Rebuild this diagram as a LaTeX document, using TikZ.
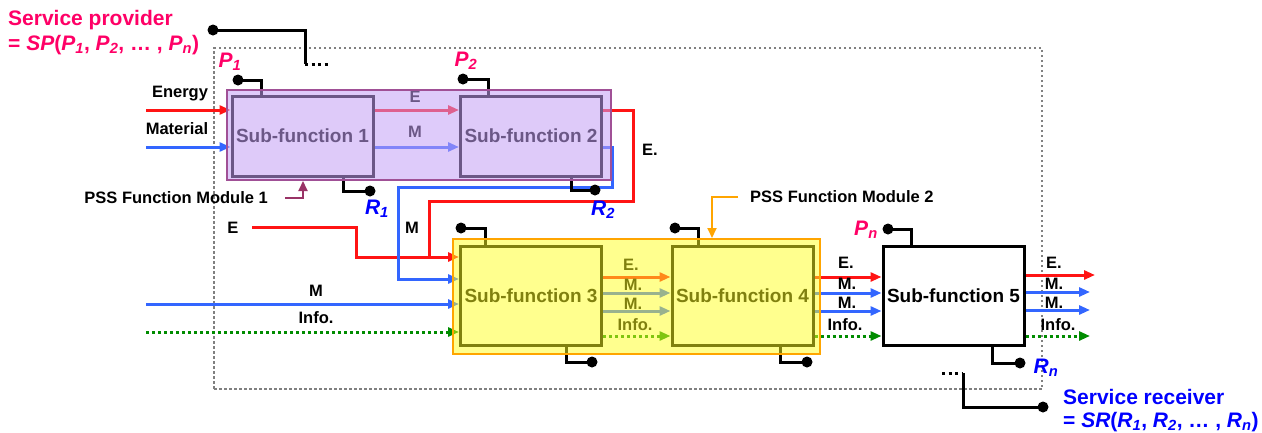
\documentclass[tikz,border=0pt]{standalone}
\usepackage{fontspec}
\setmainfont{Liberation Sans}
\usetikzlibrary{arrows.meta,calc}
\definecolor{myred}{RGB}{255,20,20}
\definecolor{myblue}{RGB}{51,102,255}
\definecolor{mygreen}{RGB}{0,140,0}
\definecolor{mymag}{RGB}{255,0,102}
\definecolor{mytblue}{RGB}{0,0,255}
\definecolor{mygray}{RGB}{128,128,128}
\definecolor{modApur}{RGB}{195,160,245}
\definecolor{modAedge}{RGB}{160,80,150}
\definecolor{modBfill}{RGB}{255,255,30}
\definecolor{modBedge}{RGB}{255,165,0}
\definecolor{ptrA}{RGB}{153,51,102}
\newcommand{\Sb}[1]{\textsubscript{\itshape #1}}
\begin{document}
\begin{tikzpicture}[x=1pt,y=-1pt,
  every node/.style={inner sep=0pt, font=\bfseries\fontsize{16.5}{18}\selectfont},
  conn/.style={line width=3pt, black},
  dotline/.style={line width=3pt, black, dash pattern=on 3pt off 3.5pt},
  ball/.style={circle, fill=black, inner sep=0pt, minimum size=11pt},
  flow/.style={line width=3pt, -{Triangle[length=11pt,width=9pt]}},
  eflow/.style={flow, color=myred},
  mflow/.style={flow, color=myblue},
  iflow/.style={flow, color=mygreen, dash pattern=on 3pt off 3pt},
  sub/.style={draw=black, fill=white, line width=3pt, minimum width=141pt, minimum height=80pt, font=\bfseries\fontsize{19}{21}\selectfont},
  big/.style={font=\bfseries\fontsize{21}{24}\selectfont},
  modA/.style={draw=modAedge, fill=modApur, fill opacity=0.55, draw opacity=1, line width=2pt},
  modB/.style={draw=modBedge, fill=modBfill, fill opacity=0.5, draw opacity=1, line width=2pt},
  sysbox/.style={draw=mygray, line width=2.5pt, dash pattern=on 2.5pt off 2.5pt}
]
\useasboundingbox (0,0) rectangle (1262,432);

% system boundary
\node[sysbox, minimum width=828pt, minimum height=341pt] (sys) at (628,218.5) {};

% sub-functions
\node[sub] (s1) at (302.5,136) {Sub-function 1};
\node[sub] (s2) at (531,136) {Sub-function 2};
\node[sub, minimum height=99pt] (s3) at (531,295.5) {Sub-function 3};
\node[sub, minimum height=99pt] (s4) at (742.5,295.5) {Sub-function 4};
\node[sub, minimum height=99pt] (s5) at (953.5,295.5) {Sub-function 5};

% coordinates
\coordinate (eIn) at (146,110);
\coordinate (mIn) at (146,147);
\coordinate (eJoin) at (429,257);
\coordinate (e2In) at (252,227);
\coordinate (mJoin) at (398,279);
\coordinate (m3In) at (146,304);
\coordinate (i3In) at (146,332);
\coordinate (yE) at (0,277);
\coordinate (yM1) at (0,293);
\coordinate (yM2) at (0,311);
\coordinate (yI) at (0,336);
\coordinate (oE) at (1095,275);
\coordinate (oM1) at (1090,292);
\coordinate (oM2) at (1090,310);
\coordinate (oI) at (1090,336);

% module 1 flows
\draw[eflow] (eIn) -- (eIn -| s1.west);
\draw[mflow] (mIn) -- (mIn -| s1.west);
\draw[eflow] (eIn -| s1.east) -- (eIn -| s2.west);
\draw[mflow] (mIn -| s1.east) -- (mIn -| s2.west);
\draw[line width=3pt, myred] (eIn -| s2.east) -- (633,110) -- (633,201) -- (429,201) -- (eJoin);
\draw[eflow] (e2In) -- (356,227) -- (356,257) -- (eJoin -| s3.west);
\draw[mflow] (mIn -| s2.east) -- (612,147) -- (612,187) -- (398,187) -- (mJoin) -- (mJoin -| s3.west);
\draw[mflow] (m3In) -- (m3In -| s3.west);
\draw[iflow] (i3In) -- (i3In -| s3.west);

% s3 -> s4
\draw[eflow] (yE -| s3.east) -- (yE -| s4.west);
\draw[mflow] (yM1 -| s3.east) -- (yM1 -| s4.west);
\draw[mflow] (yM2 -| s3.east) -- (yM2 -| s4.west);
\draw[iflow] (yI -| s3.east) -- (yI -| s4.west);
% s4 -> s5
\draw[eflow] (yE -| s4.east) -- (yE -| s5.west);
\draw[mflow] (yM1 -| s4.east) -- (yM1 -| s5.west);
\draw[mflow] (yM2 -| s4.east) -- (yM2 -| s5.west);
\draw[iflow] (yI -| s4.east) -- (yI -| s5.west);
% s5 out
\draw[eflow] (oE -| s5.east) -- (oE);
\draw[mflow] (oM1 -| s5.east) -- (oM1);
\draw[mflow] (oM2 -| s5.east) -- (oM2);
\draw[iflow] (oI -| s5.east) -- (oI);

% flow labels
\node (lEnergy) at (180,94) {Energy};
\node (lMaterial) at (177,129) {Material};
\node (lE12) at (415,97) {E};
\node (lM12) at (415,132) {M};
\node (lEdot) at (650,150) {E.};
\node (lM2) at (412,228) {M};
\node (lE3) at (233,228) {E};
\node (lM3) at (316,291) {M};
\node (lI3) at (316,318) {Info.};
\node (lE34) at (631,265) {E.};
\node (lM34a) at (633,285) {M.};
\node (lM34b) at (633,304) {M.};
\node (lI34) at (635,325) {Info.};
\node (lE45) at (846,263) {E.};
\node (lM45a) at (847,284) {M.};
\node (lM45b) at (847,303) {M.};
\node (lI45) at (845,325) {Info.};
\node (lEo) at (1054,263) {E.};
\node (lMoa) at (1054,284) {M.};
\node (lMob) at (1054,303) {M.};
\node (lIo) at (1058,325) {Info.};

% provider ports
\node[ball] (p1b) at (238,80) {};
\draw[conn] (p1b.center) -| ($(s1.north west)+(31,0)$);
\node[ball] (p2b) at (463,79) {};
\draw[conn] (p2b.center) -| ($(s2.north west)+(29,0)$);
\node[ball] (p3b) at (461,228) {};
\draw[conn] (p3b.center) -| ($(s3.north west)+(26,0)$);
\node[ball] (p4b) at (675,228) {};
\draw[conn] (p4b.center) -| ($(s4.north west)+(28,0)$);
\node[ball] (p5b) at (888,229) {};
\draw[conn] (p5b.center) -| ($(s5.north west)+(30,0)$);
% receiver ports
\node[ball] (r1b) at (370,191) {};
\draw[conn] ($(s1.south west)+(113,0)$) |- (r1b.center);
\node[ball] (r2b) at (595,190) {};
\draw[conn] ($(s2.south west)+(112,0)$) |- (r2b.center);
\node[ball] (r3b) at (592,362) {};
\draw[conn] ($(s3.south west)+(107,0)$) |- (r3b.center);
\node[ball] (r4b) at (807,362) {};
\draw[conn] ($(s4.south west)+(110,0)$) |- (r4b.center);
\node[ball] (r5b) at (1020,363) {};
\draw[conn] ($(s5.south west)+(111,0)$) |- (r5b.center);

% provider / receiver aggregate connectors
\node[ball] (spb) at (213,30) {};
\coordinate (spEnd) at (305,64);
\coordinate (spDots) at (330,64);
\draw[conn] (spb.center) -| (spEnd);
\draw[dotline] (spEnd) -- (spDots);
\node[ball] (srb) at (1043,407) {};
\coordinate (srDots) at (942,373);
\coordinate (srStart) at (963,373);
\draw[dotline] (srDots) -- (srStart);
\draw[conn] (srStart) |- (srb.center);

% modules (translucent overlays)
\node[modA, minimum width=384pt, minimum height=90pt] (m1) at (419,135) {};
\node[modB, minimum width=367pt, minimum height=115pt] (m2) at (636.5,296.5) {};

% module labels and pointers
\node[anchor=east] (pss1) at (268,198) {PSS Function Module 1};
\draw[ptrA, line width=2pt, -{Triangle[length=10pt,width=9pt]}] ($(pss1.east)+(17,0)$) -| ($(m1.south west)+(77,0)$);
\node[anchor=west] (pss2) at (750,197) {PSS Function Module 2};
\draw[modBedge, line width=1.8pt, -{Triangle[length=10pt,width=9pt]}] ($(pss2.west)+(-12,0)$) -| ($(m2.north west)+(260,0)$);

% port labels
\node[big, mymag] (lP1) at (230,62) {\textit{P}\Sb{1}};
\node[big, mymag] (lP2) at (466,61) {\textit{P}\Sb{2}};
\node[big, mymag] (lPn) at (866,230) {\textit{P}\Sb{n}};
\node[big, mytblue] (lR1) at (377,209) {\textit{R}\Sb{1}};
\node[big, mytblue] (lR2) at (603,210) {\textit{R}\Sb{2}};
\node[big, mytblue] (lRn) at (1046,368) {\textit{R}\Sb{n}};

% titles
\node[big, mymag, anchor=west] (spT1) at (8,20) {Service provider};
\node[big, mymag, anchor=west] (spT2) at (8,45) {= \textit{SP}(\textit{P}\Sb{1}, \textit{P}\Sb{2}, … , \textit{P}\Sb{n})};
\node[big, mytblue, anchor=west] (srT1) at (1063,397) {Service receiver};
\node[big, mytblue, anchor=west] (srT2) at (1063,422) {= \textit{SR}(\textit{R}\Sb{1}, \textit{R}\Sb{2}, … , \textit{R}\Sb{n})};
\end{tikzpicture}
\end{document}
